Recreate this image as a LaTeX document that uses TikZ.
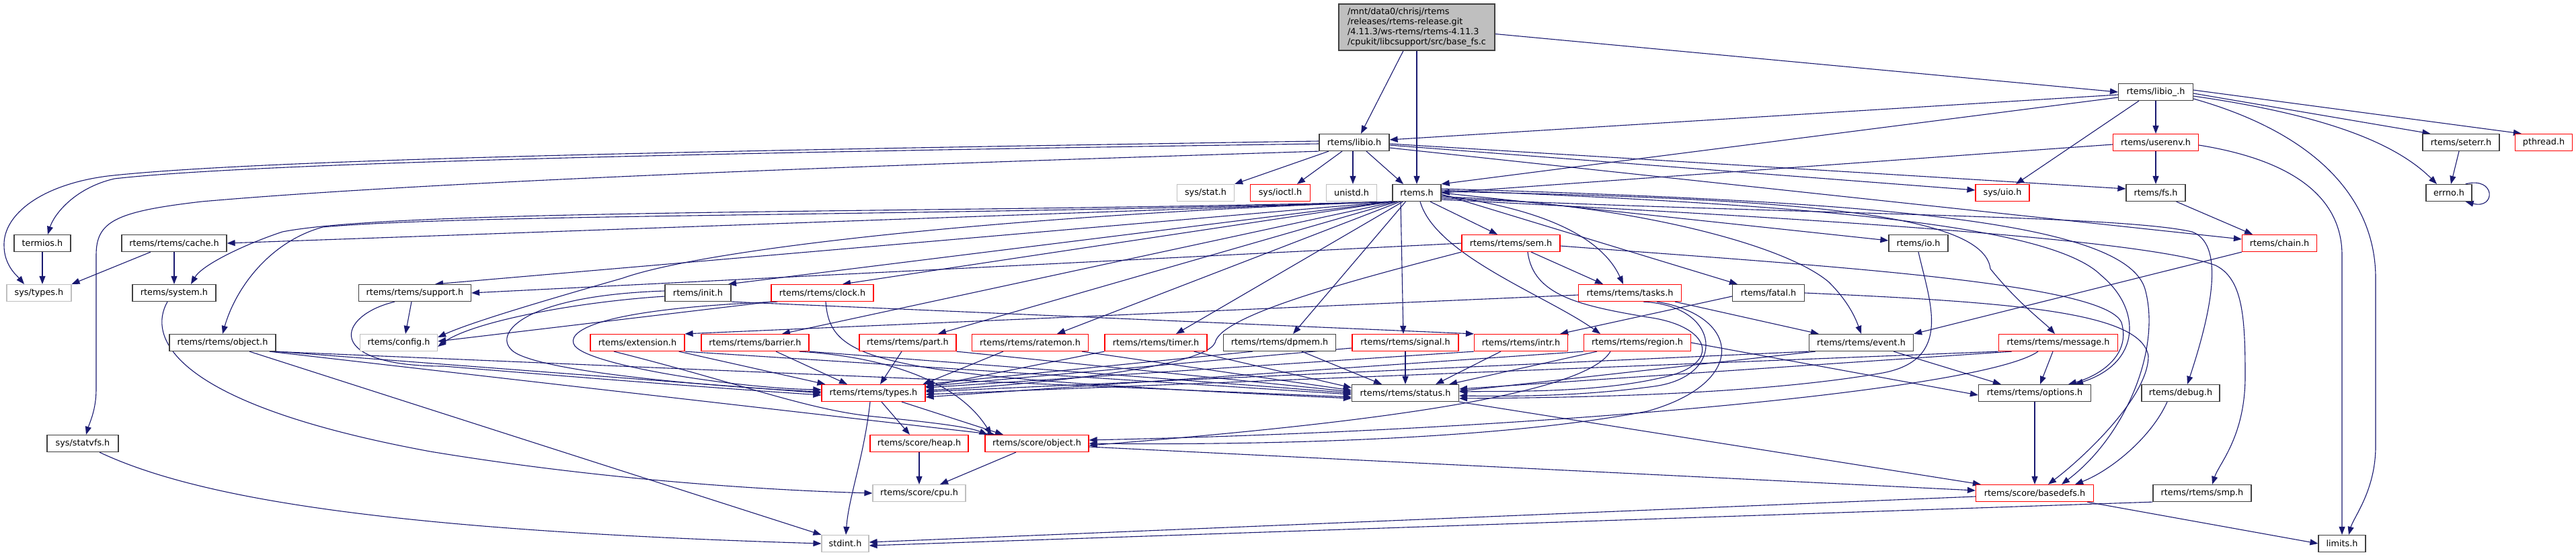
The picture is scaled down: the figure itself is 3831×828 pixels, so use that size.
\documentclass[tikz,border=0pt]{standalone}
\usepackage{fontspec}
\setmainfont{DejaVu Sans}
\usetikzlibrary{arrows.meta,backgrounds}
\definecolor{edgec}{HTML}{191970}
\definecolor{bordc}{HTML}{404040}
\definecolor{greyc}{HTML}{BFBFBF}
\definecolor{redc}{HTML}{FF0000}
\tikzset{
  nb/.style={rectangle, inner sep=0pt, minimum height=25pt, line width=1.2pt, font=\fontsize{12.8}{14.8}\selectfont, fill=white, text=black},
  blk/.style={nb, draw=bordc},
  redn/.style={nb, draw=redc},
  gryn/.style={nb, draw=greyc},
  conn/.style={draw=edgec, line width=1.1pt, -{Triangle[length=12pt,width=9pt]}},
}
\begin{document}
\begin{tikzpicture}[x=1pt,y=-1pt]
\useasboundingbox (0,0) rectangle (3831,828);
% ---------------- nodes ----------------
\node[nb, draw=bordc, fill=greyc, minimum width=232pt, minimum height=69pt, align=left] (base) at (2107,40.5)
  {/mnt/data0/chrisj/rtems\\/releases/rtems-release.git\\/4.11.3/ws-rtems/rtems-4.11.3\\/cpukit/libcsupport/src/base\_fs.c};
\node[blk, minimum width=111pt] (libio_) at (3206,137) {rtems/libio\_.h};
\node[blk, minimum width=104pt] (libio) at (2014,212) {rtems/libio.h};
\node[redn, minimum width=127pt] (userenv) at (3206,212) {rtems/userenv.h};
\node[blk, minimum width=114pt] (seterr) at (3660,212) {rtems/seterr.h};
\node[redn, minimum width=85pt] (pthread) at (3783,212) {pthread.h};
\node[gryn, minimum width=85pt] (sysstat) at (1793,287) {sys/stat.h};
\node[redn, minimum width=89pt] (sysioctl) at (1904,287) {sys/ioctl.h};
\node[gryn, minimum width=75pt] (unistd) at (2010,287) {unistd.h};
\node[blk, minimum width=72pt] (rtemsh) at (2107,287) {rtems.h};
\node[redn, minimum width=80pt] (sysuio) at (2978,287) {sys/uio.h};
\node[blk, minimum width=88pt] (fs) at (3206,287) {rtems/fs.h};
\node[blk, minimum width=68pt] (errno) at (3642,287) {errno.h};
\node[blk, minimum width=84pt] (termios) at (63,362) {termios.h};
\node[blk, minimum width=156pt] (cache) at (259,362) {rtems/rtems/cache.h};
\node[redn, minimum width=146pt] (sem) at (2247,362) {rtems/rtems/sem.h};
\node[blk, minimum width=88pt] (io) at (2853,362) {rtems/io.h};
\node[redn, minimum width=111pt] (chain) at (3390,362) {rtems/chain.h};
\node[gryn, minimum width=96pt] (systypes) at (58,436) {sys/types.h};
\node[blk, minimum width=124pt] (system) at (259,436) {rtems/system.h};
\node[blk, minimum width=167pt] (support) at (617,436) {rtems/rtems/support.h};
\node[blk, minimum width=98pt] (init) at (1038,436) {rtems/init.h};
\node[redn, minimum width=152pt] (clock) at (1223,436) {rtems/rtems/clock.h};
\node[redn, minimum width=153pt] (tasks) at (2424,436) {rtems/rtems/tasks.h};
\node[blk, minimum width=107pt] (fatal) at (2630,436) {rtems/fatal.h};
\node[blk, minimum width=158pt] (object) at (331,510) {rtems/rtems/object.h};
\node[gryn, minimum width=115pt] (config) at (593,510) {rtems/config.h};
\node[redn, minimum width=140pt] (extension) at (948,510) {rtems/extension.h};
\node[redn, minimum width=160pt] (barrier) at (1123,510) {rtems/rtems/barrier.h};
\node[redn, minimum width=144pt] (part) at (1350,510) {rtems/rtems/part.h};
\node[redn, minimum width=173pt] (ratemon) at (1532,510) {rtems/rtems/ratemon.h};
\node[redn, minimum width=152pt] (timer) at (1719,510) {rtems/rtems/timer.h};
\node[blk, minimum width=167pt] (dpmem) at (1903,510) {rtems/rtems/dpmem.h};
\node[redn, minimum width=158pt] (signal) at (2090,510) {rtems/rtems/signal.h};
\node[redn, minimum width=139pt] (intr) at (2262,510) {rtems/rtems/intr.h};
\node[redn, minimum width=159pt] (region) at (2435,510) {rtems/rtems/region.h};
\node[blk, minimum width=155pt] (event) at (2768,510) {rtems/rtems/event.h};
\node[redn, minimum width=177pt] (message) at (3061,510) {rtems/rtems/message.h};
\node[redn, minimum width=154pt] (types) at (1299,585) {rtems/rtems/types.h};
\node[blk, minimum width=159pt] (status) at (2090,585) {rtems/rtems/status.h};
\node[blk, minimum width=167pt] (options) at (3026,585) {rtems/rtems/options.h};
\node[blk, minimum width=116pt] (debug) at (3243,585) {rtems/debug.h};
\node[blk, minimum width=106pt] (statvfs) at (123,660) {sys/statvfs.h};
\node[redn, minimum width=146pt] (heap) at (1367,660) {rtems/score/heap.h};
\node[redn, minimum width=154pt] (sobject) at (1542,660) {rtems/score/object.h};
\node[gryn, minimum width=138pt] (cpu) at (1367,734) {rtems/score/cpu.h};
\node[redn, minimum width=175pt] (basedefs) at (3026,734) {rtems/score/basedefs.h};
\node[blk, minimum width=146pt] (smp) at (3275,734) {rtems/rtems/smp.h};
\node[gryn, minimum width=70pt] (stdint) at (1257,809) {stdint.h};
\node[blk, minimum width=70pt] (limits) at (3483,809) {limits.h};
% ---------------- connectors ----------------
\begin{scope}[on background layer]
\fill[white] (0,0) rectangle (3831,828);
% base
\draw[conn] ([xshift=-20pt]base.south) -- ([xshift=10pt]libio.north);
\draw[conn] (base.south) -- (rtemsh.north);
\draw[conn] ([yshift=-10pt]base.east) -- (libio_.west);
% libio_.h
\draw[conn] ([yshift=-4pt]libio_.west) -- ([yshift=4pt]libio.east);
\draw[conn] ([yshift=-8pt]libio_.west) -- (rtemsh.north east);
\draw[conn] ([xshift=-25pt]libio_.south) -- ([xshift=20pt]sysuio.north);
\draw[conn] (libio_.south) -- (userenv.north);
\draw[conn] ([yshift=-2pt]libio_.east) -- ([xshift=12pt]seterr.north west);
\draw[conn] ([yshift=3pt]libio_.east) -- ([xshift=10pt]pthread.north west);
\draw[conn] ([yshift=-6pt]libio_.east) .. controls (3450,170) and (3560,210) .. ([xshift=-18pt]errno.north);
\draw[conn] ([yshift=-10pt]libio_.east) .. controls (3450,200) and (3533,300) .. (3533,414) -- (3533,664) .. controls (3533,730) and (3500,770) .. ([xshift=10pt]limits.north);
% userenv
\draw[conn] ([yshift=-3pt]userenv.west) -- (rtemsh.east);
\draw[conn] (userenv.south) -- (fs.north);
\draw[conn] ([yshift=-4pt]userenv.east) .. controls (3420,240) and (3483,300) .. (3483,380) -- (limits.north);
% seterr, errno, fs
\draw[conn] ([xshift=-3pt]seterr.south) -- ([xshift=3pt]errno.north);
\draw[conn] ([xshift=-10pt]errno.north east) .. controls (3712,262) and (3712,312) .. ([xshift=-10pt]errno.south east);
\draw[conn] ([xshift=-14pt]fs.south east) -- ([xshift=-40pt]chain.north);
% libio.h
\draw[conn] ([xshift=-38pt]libio.south) -- (sysstat.north east);
\draw[conn] ([xshift=-18pt]libio.south) -- ([xshift=25pt]sysioctl.north);
\draw[conn] ([xshift=-2pt]libio.south) -- ([xshift=2pt]unistd.north);
\draw[conn] ([xshift=18pt]libio.south) -- ([xshift=-20pt]rtemsh.north);
\draw[conn] ([yshift=-4pt]libio.east) -- ([yshift=4pt]sysuio.west);
\draw[conn] ([yshift=-2pt]libio.east) -- ([yshift=6pt]fs.west);
\draw[conn] ([yshift=-8pt]libio.east) -- ([yshift=6pt]chain.west);
\draw[conn] ([yshift=2pt]libio.west) .. controls (1200,222) and (400,235) .. (160,262) .. controls (60,275) and (5,320) .. (6,365) .. controls (6,395) and (25,410) .. ([xshift=-22pt]systypes.north);
\draw[conn] ([yshift=-2pt]libio.west) .. controls (1200,225) and (400,240) .. (170,266) .. controls (110,280) and (80,320) .. ([xshift=8pt]termios.north);
\draw[conn] (libio.south west) .. controls (1500,240) and (700,265) .. (300,300) .. controls (170,315) and (143,330) .. (143,380) -- (143,580) .. controls (143,610) and (133,630) .. ([xshift=5pt]statvfs.north);
% termios, cache, system, statvfs
\draw[conn] (termios.south) -- ([xshift=5pt]systypes.north);
\draw[conn] ([xshift=-35pt]cache.south) -- (systypes.north east);
\draw[conn] (cache.south) -- (system.north);
\draw[conn] ([xshift=-10pt]system.south) .. controls (220,500) and (250,600) .. (640,672) .. controls (900,715) and (1150,730) .. (cpu.west);
\draw[conn] ([xshift=25pt]statvfs.south) .. controls (300,745) and (600,790) .. (stdint.west);
% rtems.h
\draw[conn] (rtemsh.south west) -- (cache.east);
\draw[conn] ([xshift=2pt]rtemsh.south west) .. controls (1400,318) and (600,310) .. (420,345) .. controls (360,365) and (300,395) .. ([xshift=25pt]system.north);
\draw[conn] ([xshift=4pt]rtemsh.south west) .. controls (1400,322) and (700,318) .. (480,338) .. controls (400,360) and (350,430) .. (object.north);
\draw[conn] (rtemsh.south west) -- ([xshift=30pt]support.north);
\draw[conn] (rtemsh.south west) .. controls (1500,320) and (1050,370) .. (926,414) .. controls (800,450) and (700,480) .. ([yshift=8pt]config.east);
\draw[conn] (rtemsh.south west) -- ([xshift=45pt]init.north);
\draw[conn] (rtemsh.south west) -- ([xshift=30pt]clock.north);
\draw[conn] ([xshift=5pt]rtemsh.south west) -- ([xshift=40pt]barrier.north);
\draw[conn] ([xshift=8pt]rtemsh.south west) -- ([xshift=45pt]part.north);
\draw[conn] ([xshift=12pt]rtemsh.south west) -- ([xshift=40pt]ratemon.north);
\draw[conn] ([xshift=16pt]rtemsh.south west) -- ([xshift=30pt]timer.north);
\draw[conn] ([xshift=20pt]rtemsh.south west) -- ([xshift=20pt]dpmem.north);
\draw[conn] ([xshift=-24pt]rtemsh.south) -- ([xshift=-3pt]signal.north);
\draw[conn] ([xshift=5pt]rtemsh.south) .. controls (2135,380) and (2300,440) .. ([xshift=-55pt]region.north);
\draw[conn] ([xshift=20pt]rtemsh.south) -- ([xshift=-20pt]sem.north);
\draw[conn] ([yshift=-4pt]rtemsh.east) .. controls (2330,315) and (2390,370) .. ([xshift=-10pt]tasks.north);
\draw[conn] (rtemsh.east) -- ([yshift=4pt]io.west);
\draw[conn] ([yshift=-2pt]rtemsh.east) -- ([xshift=8pt]fatal.north west);
\draw[conn] ([yshift=-6pt]rtemsh.east) .. controls (2400,300) and (2650,360) .. (2720,420) .. controls (2750,450) and (2760,475) .. (event.north);
\draw[conn] ([yshift=2pt]rtemsh.east) .. controls (2650,295) and (2950,315) .. (2960,400) .. controls (3000,450) and (3040,480) .. ([xshift=-5pt]message.north);
\draw[conn] ([yshift=-8pt]rtemsh.east) .. controls (2700,320) and (3150,320) .. (3260,345) .. controls (3300,360) and (3300,430) .. ([xshift=10pt]debug.north);
\draw[conn] ([yshift=-10pt]rtemsh.east) .. controls (2800,330) and (3200,360) .. (3295,395) .. controls (3335,415) and (3339,470) .. (3339,560) .. controls (3339,650) and (3300,690) .. ([xshift=15pt]smp.north);
\draw[conn] ([yshift=4pt]rtemsh.east) .. controls (2700,305) and (3050,335) .. (3125,410) .. controls (3185,460) and (3185,540) .. ([xshift=60pt]options.north);
\draw[conn] ([yshift=6pt]rtemsh.east) .. controls (2800,300) and (3160,330) .. (3190,430) .. controls (3215,520) and (3160,650) .. ([xshift=40pt]basedefs.north);
% sem
\draw[conn] (sem.west) -- (support.east);
\draw[conn] ([xshift=30pt]sem.south) -- ([xshift=-40pt]tasks.north);
\draw[conn] ([xshift=25pt]sem.south) .. controls (2280,440) and (2350,455) .. (2450,472) .. controls (2545,485) and (2560,540) .. (2480,560) .. controls (2380,585) and (2250,582) .. ([yshift=2pt]status.east);
\draw[conn] ([yshift=-4pt]sem.east) .. controls (2700,395) and (3130,420) .. (3155,480) .. controls (3170,530) and (3120,560) .. ([xshift=50pt]options.north);
\draw[conn] (sem.south west) .. controls (2000,420) and (1815,470) .. (1807,510) .. controls (1790,550) and (1500,575) .. ([yshift=4pt]types.east);
% tasks
\draw[conn] ([yshift=-3pt]tasks.west) -- (extension.north east);
\draw[conn] ([xshift=20pt]tasks.south) .. controls (2560,455) and (2570,560) .. (2460,575) .. controls (2350,590) and (2250,590) .. ([yshift=-4pt]status.east);
\draw[conn] ([xshift=40pt]tasks.south) .. controls (2590,470) and (2600,570) .. (2450,612) .. controls (2200,660) and (1800,662) .. (sobject.east);
\draw[conn] ([xshift=-10pt]tasks.south east) -- ([xshift=15pt]event.north west);
% fatal
\draw[conn] ([yshift=-5pt]fatal.west) -- ([xshift=-12pt]intr.north east);
\draw[conn] (fatal.east) .. controls (3000,450) and (3185,465) .. (3195,530) .. controls (3195,590) and (3100,680) .. ([xshift=20pt]basedefs.north);
% io, chain
\draw[conn] (io.south) .. controls (2870,450) and (2905,535) .. (2800,555) .. controls (2600,590) and (2300,592) .. ([yshift=-8pt]status.east);
\draw[conn] (chain.south west) -- (event.north east);
% event
\draw[conn] (event.south west) -- ([yshift=2pt]types.east);
\draw[conn] ([xshift=10pt]event.south west) -- ([yshift=3pt]status.east);
\draw[conn] ([xshift=-30pt]event.south east) -- ([xshift=34pt]options.north west);
% message
\draw[conn] (message.south west) -- ([yshift=-2pt]types.east);
\draw[conn] ([xshift=20pt]message.south west) -- ([yshift=6pt]status.east);
\draw[conn] ([xshift=-8pt]message.south) -- ([xshift=8pt]options.north);
\draw[conn] ([xshift=-30pt]message.south) .. controls (2950,580) and (2300,640) .. ([yshift=5pt]sobject.east);
% region
\draw[conn] ([xshift=-60pt]region.south) -- ([xshift=-15pt]status.north east);
\draw[conn] (region.south west) -- ([yshift=-6pt]types.east);
\draw[conn] ([xshift=-40pt]region.south) .. controls (2350,600) and (1900,640) .. ([yshift=-3pt]sobject.east);
\draw[conn] (region.east) -- ([yshift=-3pt]options.west);
% intr, signal, dpmem
\draw[conn] ([xshift=-30pt]intr.south) -- ([xshift=-35pt]status.north east);
\draw[conn] (intr.south west) -- ([yshift=8pt]types.east);
\draw[conn] (signal.south) -- (status.north);
\draw[conn] ([yshift=-8pt]signal.west) -- ([yshift=10pt]types.east);
\draw[conn] ([xshift=33pt]dpmem.south) -- ([xshift=-35pt]status.north);
\draw[conn] ([xshift=-40pt]dpmem.south) -- (types.north east);
% timer, ratemon, part, barrier, extension
\draw[conn] ([xshift=-20pt]timer.south east) -- ([yshift=8pt]status.west);
\draw[conn] (timer.south west) -- ([yshift=9pt]types.east);
\draw[conn] ([xshift=-40pt]ratemon.south) -- ([xshift=-4pt]types.north east);
\draw[conn] ([xshift=-10pt]ratemon.south east) -- ([yshift=4pt]status.west);
\draw[conn] ([xshift=-9pt]part.south) -- ([xshift=10pt]types.north);
\draw[conn] (part.south east) -- ([yshift=2pt]status.west);
\draw[conn] ([xshift=31pt]barrier.south) -- ([xshift=-39pt]types.north);
\draw[conn] (barrier.south east) -- (status.west);
\draw[conn] ([xshift=-15pt]barrier.south east) .. controls (1300,530) and (1420,560) .. ([xshift=10pt]sobject.north west);
\draw[conn] ([xshift=-9pt]extension.south east) -- ([xshift=6pt]types.north west);
\draw[conn] (extension.south east) -- ([yshift=-2pt]status.west);
\draw[conn] ([xshift=-35pt]extension.south) .. controls (1100,570) and (1200,610) .. (1300,620) .. controls (1380,628) and (1440,635) .. ([xshift=4pt]sobject.north west);
% object
\draw[conn] (object.south east) -- (types.west);
\draw[conn] ([xshift=-5pt]object.south east) -- ([yshift=-6pt]status.west);
\draw[conn] ([xshift=-10pt]object.south east) -- ([xshift=16pt]sobject.north west);
\draw[conn] ([xshift=40pt]object.south) -- (stdint.north west);
% support, init, clock
\draw[conn] ([xshift=-5pt]support.south) -- ([xshift=10pt]config.north);
\draw[conn] ([xshift=-30pt]support.south) .. controls (500,470) and (480,545) .. (660,545) .. controls (900,565) and (1100,580) .. ([yshift=-3pt]types.west);
\draw[conn] ([yshift=-5pt]init.west) .. controls (850,450) and (700,480) .. ([yshift=-6pt]config.east);
\draw[conn] ([yshift=3pt]init.west) .. controls (780,440) and (735,495) .. (760,520) .. controls (790,555) and (1100,578) .. ([yshift=2pt]types.west);
\draw[conn] (init.south east) -- (intr.north west);
\draw[conn] (clock.south west) -- ([yshift=2pt]config.east);
\draw[conn] ([xshift=10pt]clock.south west) .. controls (880,460) and (840,495) .. (855,515) .. controls (880,545) and (1100,578) .. ([yshift=5pt]types.west);
\draw[conn] ([xshift=5pt]clock.south) .. controls (1235,540) and (1300,560) .. ([yshift=-8pt]status.west);
% types, status, options, debug
\draw[conn] ([xshift=12pt]types.south) -- ([xshift=-14pt]heap.north);
\draw[conn] ([xshift=42pt]types.south) -- ([xshift=-50pt]sobject.north);
\draw[conn] ([xshift=-5pt]types.south) .. controls (1285,680) and (1262,740) .. ([xshift=1pt]stdint.north);
\draw[conn] (status.south east) -- ([xshift=8pt]basedefs.north west);
\draw[conn] (options.south) -- (basedefs.north);
\draw[conn] ([xshift=-20pt]debug.south) .. controls (3200,650) and (3140,700) .. ([xshift=60pt]basedefs.north);
% score
\draw[conn] ([xshift=-31pt]sobject.south) -- ([xshift=31pt]cpu.north);
\draw[conn] ([yshift=-5pt]sobject.east) -- ([yshift=4pt]basedefs.west);
\draw[conn] (heap.south) -- (cpu.north);
\draw[conn] ([yshift=-5pt]basedefs.west) -- ([yshift=2pt]stdint.east);
\draw[conn] ([xshift=-10pt]basedefs.south east) -- (limits.west);
\draw[conn] (smp.south west) -- ([yshift=-3pt]stdint.east);
\end{scope}
\end{tikzpicture}
\end{document}
